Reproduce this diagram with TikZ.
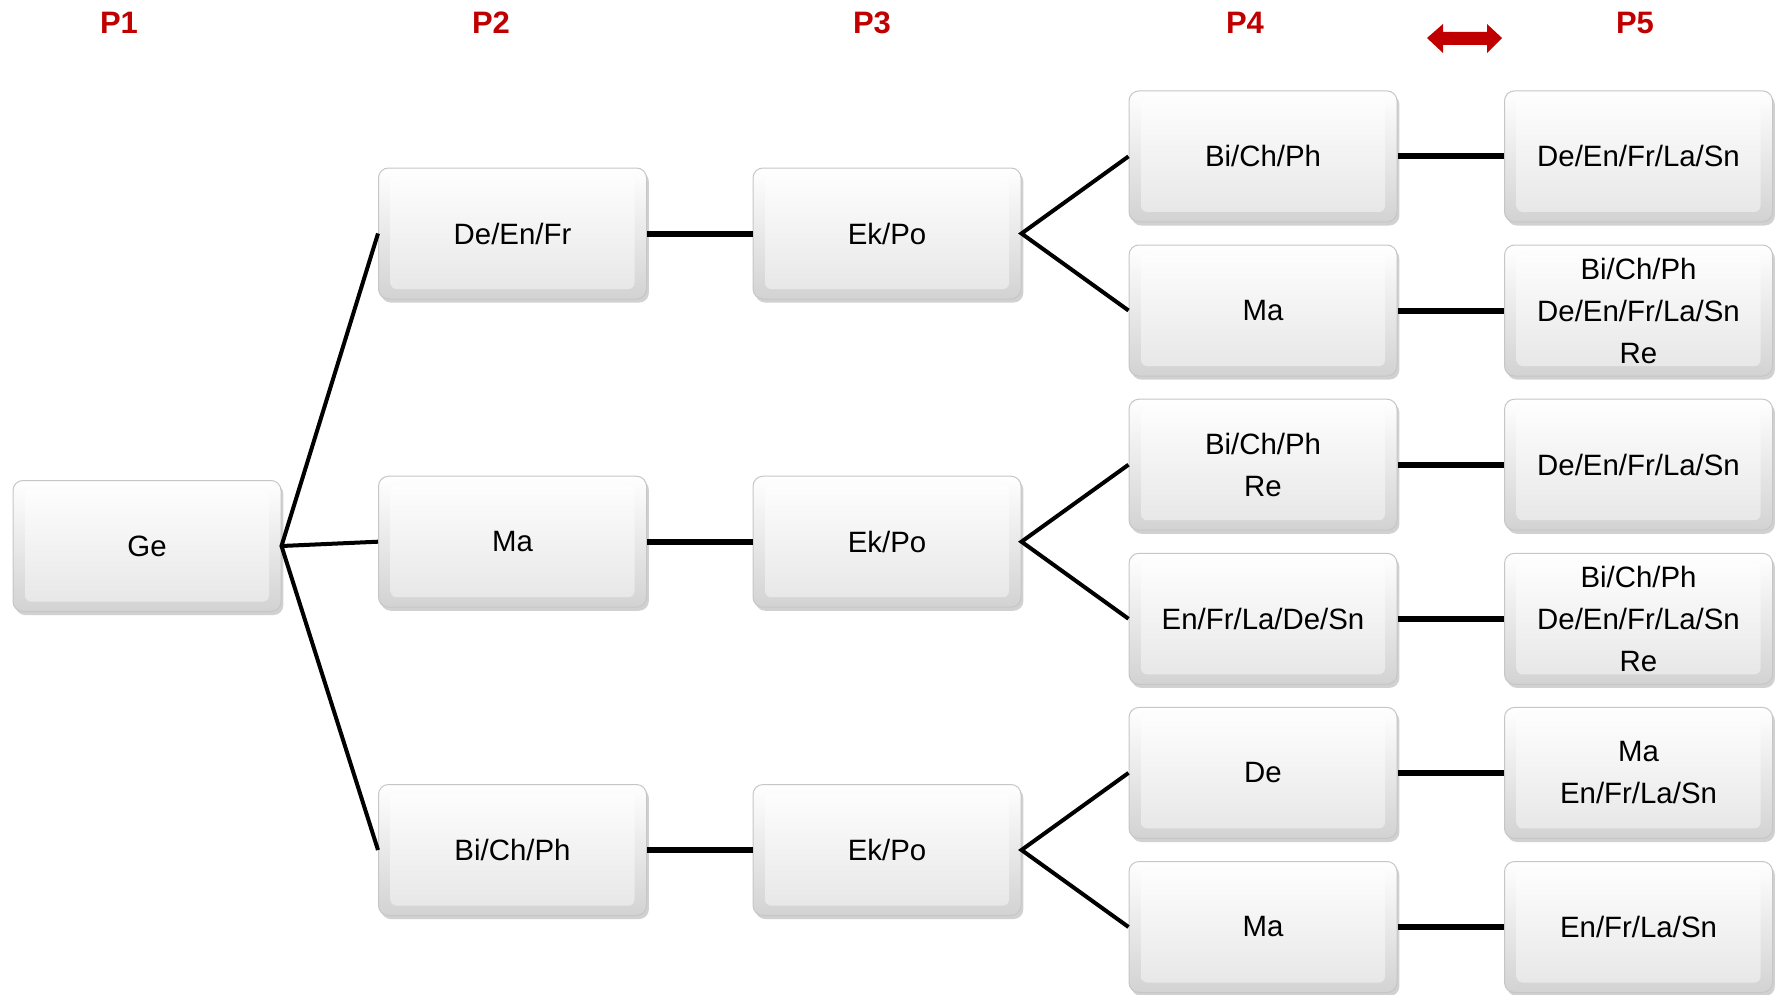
\documentclass[tikz,border=0pt]{standalone}
\usepackage{fontspec}
\setmainfont{Liberation Sans}
\usetikzlibrary{shadows}
\definecolor{hdr}{HTML}{C00000}
\tikzset{
  keybox/.style={rounded corners=5pt, draw=gray!45, line width=0.5pt,
    top color=white, bottom color=gray!35,
    minimum width=134pt, minimum height=65.5pt, inner sep=0pt,
    align=center, font=\fontsize{14.7}{21}\selectfont,
    drop shadow={shadow xshift=1.2pt, shadow yshift=-1.8pt, opacity=0.45, fill=gray!80},
    path picture={\shade[top color=white, bottom color=gray!20, rounded corners=3pt]
      ([shift={(6pt,-4pt)}]path picture bounding box.north west) rectangle
      ([shift={(-6pt,5pt)}]path picture bounding box.south east);}},
  hlab/.style={text=hdr, font=\fontsize{15.5}{18}\selectfont\bfseries},
  thick line/.style={line width=3pt},
  thin line/.style={line width=2pt},
}
\begin{document}
\begin{tikzpicture}[x=0.5pt,y=-0.5pt]
\useasboundingbox (0,0) rectangle (1777,995);
% headers
\node[hlab] (h1) at (119,23) {P1};
\node[hlab] (h2) at (491,23) {P2};
\node[hlab] (h3) at (872,23) {P3};
\node[hlab] (h4) at (1245,23) {P4};
\node[hlab] (h5) at (1635,23) {P5};
\fill[hdr] (1427,38) -- (1443,24) -- (1443,32) -- (1487,32) -- (1487,24) -- (1502,38)
  -- (1487,53) -- (1487,45) -- (1443,45) -- (1443,53) -- cycle;
% nodes
\node[keybox] (ge) at (147,546) {Ge};
\node[keybox] (a1) at (512.5,233.5) {De/En/Fr};
\node[keybox] (a2) at (512.5,541.7) {Ma};
\node[keybox] (a3) at (512.5,850) {Bi/Ch/Ph};
\node[keybox] (b1) at (887,233.5) {Ek/Po};
\node[keybox] (b2) at (887,541.7) {Ek/Po};
\node[keybox] (b3) at (887,850) {Ek/Po};
\node[keybox] (c1) at (1263,156.4) {Bi/Ch/Ph};
\node[keybox] (c2) at (1263,310.5) {Ma};
\node[keybox] (c3) at (1263,464.7) {Bi/Ch/Ph\\Re};
\node[keybox] (c4) at (1263,618.8) {En/Fr/La/De/Sn};
\node[keybox] (c5) at (1263,772.9) {De};
\node[keybox] (c6) at (1263,927) {Ma};
\node[keybox] (d1) at (1638.5,156.4) {De/En/Fr/La/Sn};
\node[keybox] (d2) at (1638.5,310.5) {Bi/Ch/Ph\\De/En/Fr/La/Sn\\Re};
\node[keybox] (d3) at (1638.5,464.7) {De/En/Fr/La/Sn};
\node[keybox] (d4) at (1638.5,618.8) {Bi/Ch/Ph\\De/En/Fr/La/Sn\\Re};
\node[keybox] (d5) at (1638.5,772.9) {Ma\\En/Fr/La/Sn};
\node[keybox] (d6) at (1638.5,927) {En/Fr/La/Sn};
% connectors
\draw[thin line] (a1.west) -- (ge.east) -- (a3.west);
\draw[thin line] (ge.east) -- (a2.west);
\draw[thick line] (a1.east) -- (b1.west);
\draw[thick line] (a2.east) -- (b2.west);
\draw[thick line] (a3.east) -- (b3.west);
\draw[thin line] (c1.west) -- (b1.east) -- (c2.west);
\draw[thin line] (c3.west) -- (b2.east) -- (c4.west);
\draw[thin line] (c5.west) -- (b3.east) -- (c6.west);
\foreach \i in {1,...,6} \draw[thick line] (c\i.east) -- (d\i.west);
\end{tikzpicture}
\end{document}
